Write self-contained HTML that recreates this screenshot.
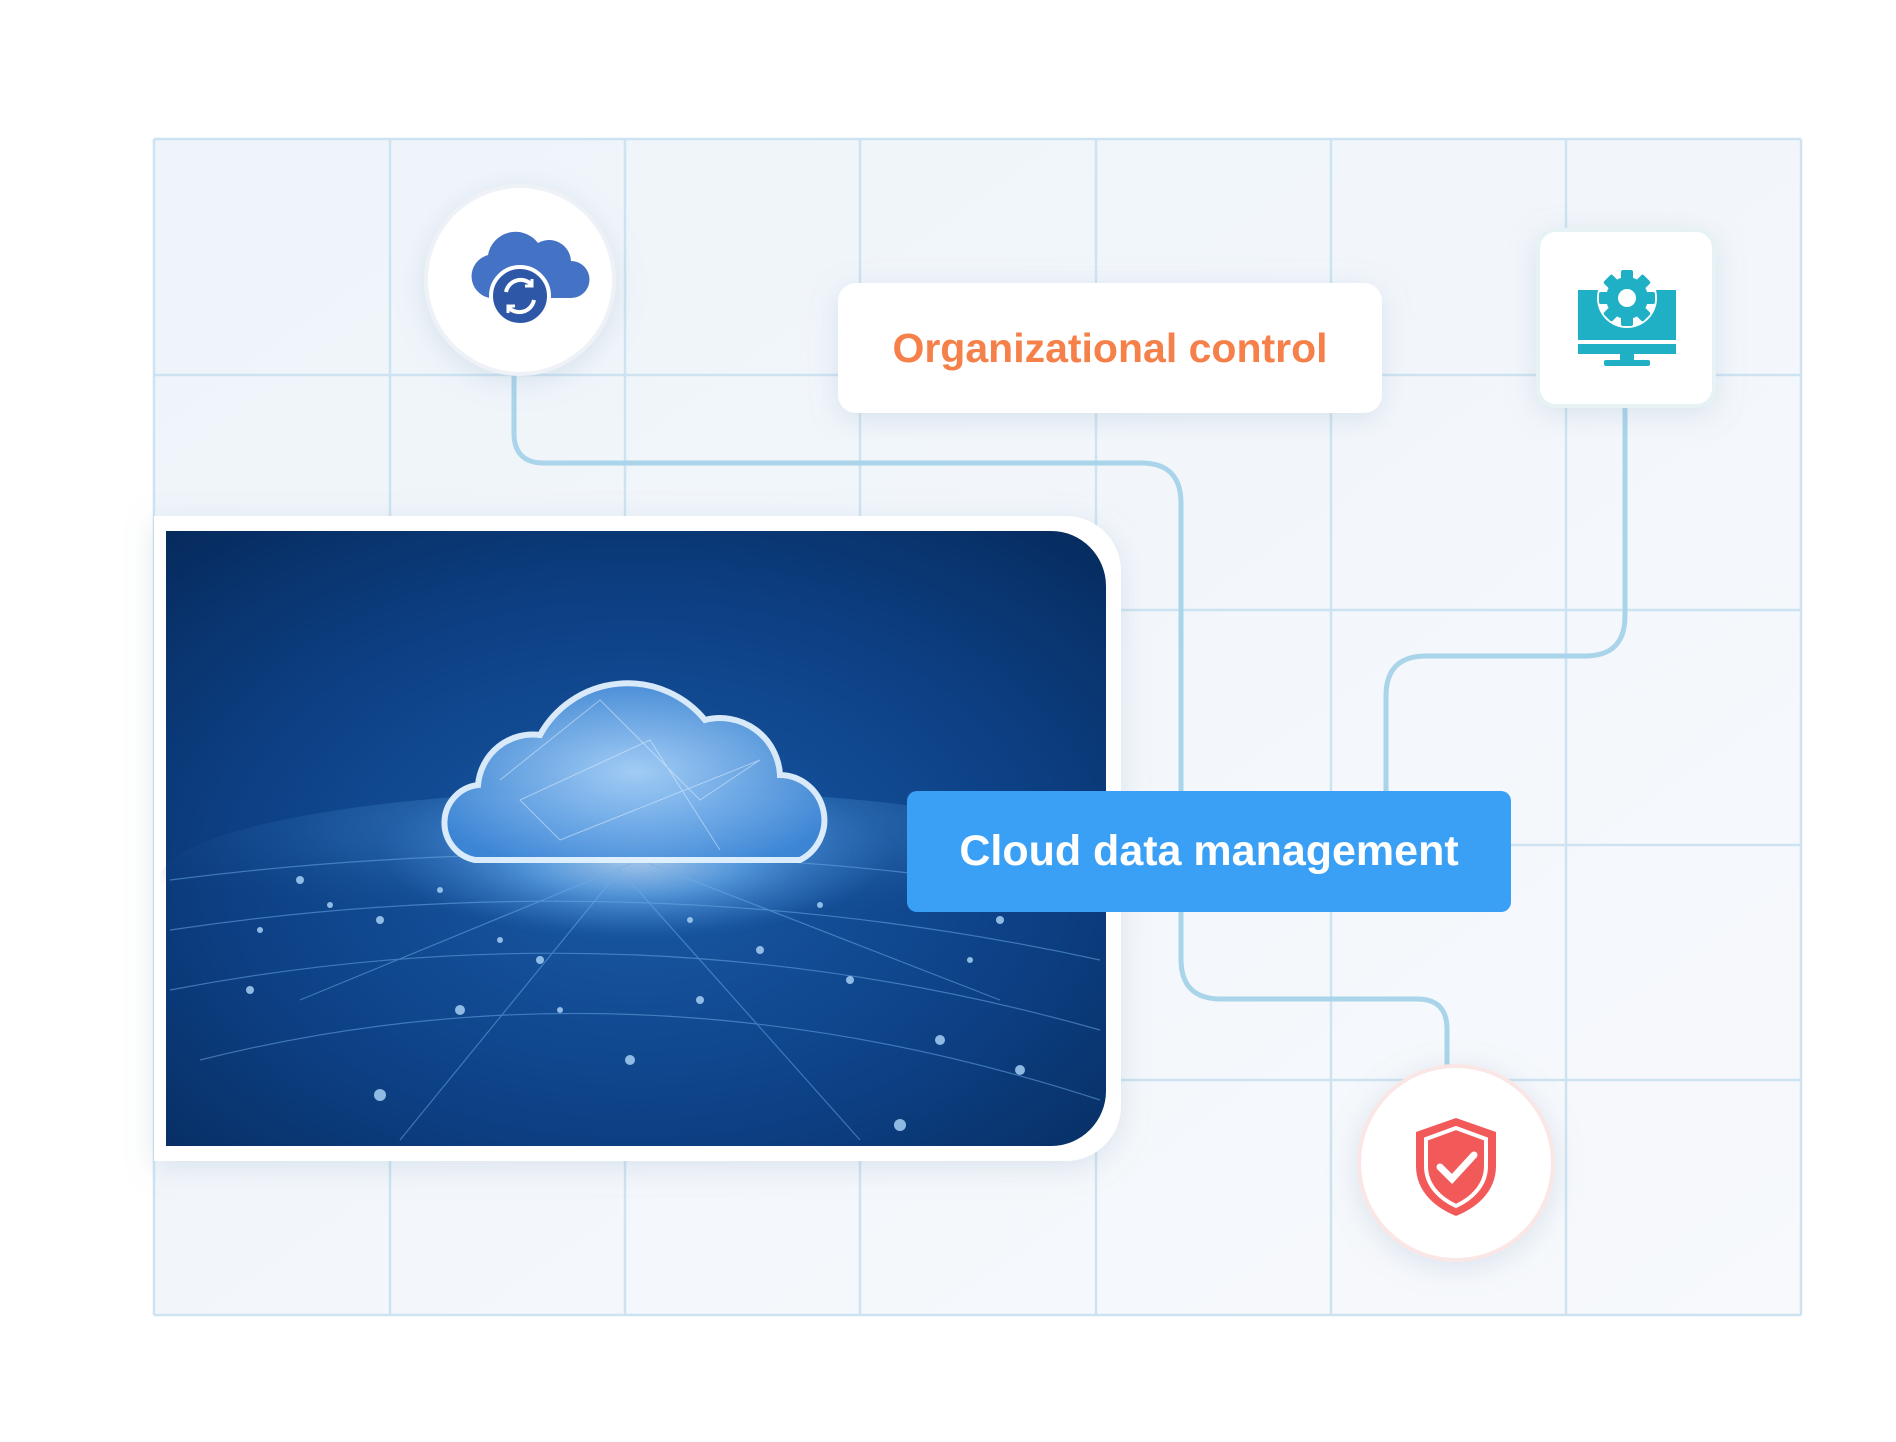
<!DOCTYPE html>
<html><head><meta charset="utf-8"><style>
html,body{margin:0;padding:0;background:#fff;}
body{width:1896px;height:1442px;position:relative;overflow:hidden;font-family:"Liberation Sans",sans-serif;}
.abs{position:absolute;}
</style></head><body>
<svg class="abs" style="left:0;top:0" width="1896" height="1442">
<defs>
<linearGradient id="bg" x1="0" y1="0" x2="1" y2="1"><stop offset="0" stop-color="#eef4fa"/><stop offset="1" stop-color="#f7f9fc"/></linearGradient>
<radialGradient id="img" cx="0.5" cy="0.55" r="0.75"><stop offset="0" stop-color="#1a5aa6"/><stop offset="0.55" stop-color="#0d4186"/><stop offset="1" stop-color="#062a5c"/></radialGradient>
<radialGradient id="glow" cx="0.5" cy="0.6" r="0.5"><stop offset="0" stop-color="#dff0ff"/><stop offset="0.4" stop-color="#6aaff0"/><stop offset="1" stop-color="#2a6fc0" stop-opacity="0"/></radialGradient>
<radialGradient id="floor" cx="0.5" cy="0.2" r="0.6"><stop offset="0" stop-color="#5aa6ee" stop-opacity="0.8"/><stop offset="1" stop-color="#0c3f80" stop-opacity="0"/></radialGradient>
<radialGradient id="cl" cx="0.5" cy="0.5" r="0.6"><stop offset="0" stop-color="#a9d3fa"/><stop offset="1" stop-color="#3d86d6"/></radialGradient>
<filter id="sh" x="-20%" y="-20%" width="140%" height="140%"><feDropShadow dx="0" dy="6" stdDeviation="14" flood-color="#8aa4c0" flood-opacity="0.25"/></filter>
<filter id="bl"><feGaussianBlur stdDeviation="6"/></filter>
</defs>
<rect x="154" y="139" width="1647" height="1176" fill="url(#bg)"/>
<g stroke="#cde3f1" stroke-width="2.5" fill="none">
<path d="M154 139V1315M390 139V1315M625 139V1315M860 139V1315M1096 139V1315M1331 139V1315M1566 139V1315M1801 139V1315"/>
<path d="M154 139H1801M154 375H1801M154 610H1801M154 845H1801M154 1080H1801M154 1315H1801"/>
</g>
<g stroke="#a9d4ea" stroke-width="5" fill="none">
<path d="M514 374V433Q514 463 544 463H1141Q1181 463 1181 503V959Q1181 999 1221 999H1417Q1447 999 1447 1029V1070"/>
<path d="M1625 406V616Q1625 656 1585 656H1426Q1386 656 1386 696V791"/>
</g>
<path d="M154 516H1066A55 55 0 0 1 1121 571V1106A55 55 0 0 1 1066 1161H154Z" fill="#fff" filter="url(#sh)"/>
<path d="M166 531H1051A55 55 0 0 1 1106 586V1091A55 55 0 0 1 1051 1146H166Z" fill="url(#img)"/>
<ellipse cx="640" cy="880" rx="480" ry="90" fill="url(#floor)"/>
<ellipse cx="636" cy="840" rx="260" ry="90" fill="url(#glow)" opacity="0.7" filter="url(#bl)"/>
<g stroke="#6fb0ec" stroke-width="1.2" opacity="0.5" fill="none">
<path d="M170 880Q640 820 1100 900M170 930Q640 860 1100 960M170 990Q640 900 1100 1030M200 1060Q640 950 1100 1100M400 1140L620 870L860 1140M300 1000L640 860L1000 1000"/>
</g>
<path d="M475 860A38 38 0 0 1 478 785A55 55 0 0 1 540 735A100 100 0 0 1 705 720A60 60 0 0 1 780 775A45 45 0 0 1 800 860Z" fill="url(#cl)" stroke="#e3f2ff" stroke-width="6" opacity="0.95"/>
<g stroke="#e8f4ff" stroke-width="1" opacity="0.5" fill="none"><path d="M500 780L600 700L700 800L760 760L560 840L520 800L650 740L720 850"/></g>
<g fill="#a6d0f5" opacity="0.85">
<circle cx="300" cy="880" r="4"/><circle cx="380" cy="920" r="4"/><circle cx="460" cy="1010" r="5"/><circle cx="540" cy="960" r="4"/><circle cx="630" cy="1060" r="5"/><circle cx="700" cy="1000" r="4"/><circle cx="760" cy="950" r="4"/><circle cx="850" cy="980" r="4"/><circle cx="940" cy="1040" r="5"/><circle cx="1000" cy="920" r="4"/><circle cx="380" cy="1095" r="6"/><circle cx="900" cy="1125" r="6"/><circle cx="250" cy="990" r="4"/><circle cx="1020" cy="1070" r="5"/>
<circle cx="330" cy="905" r="3"/><circle cx="440" cy="890" r="3"/><circle cx="560" cy="1010" r="3"/><circle cx="820" cy="905" r="3"/><circle cx="690" cy="920" r="3"/><circle cx="970" cy="960" r="3"/><circle cx="260" cy="930" r="3"/><circle cx="500" cy="940" r="3"/>
</g>
<circle cx="520" cy="280" r="94" fill="#fff" stroke="#eef2f6" stroke-width="4" filter="url(#sh)"/>
<path d="M490 298a22 22 0 0 1-2-43a28 28 0 0 1 50-12a22 22 0 0 1 33 18a18 18 0 0 1 0 37Z" fill="#4472c4"/>
<circle cx="520" cy="296" r="29" fill="#2e57a8" stroke="#fff" stroke-width="4"/>
<path d="M506 292a15 15 0 0 1 26-7M534 300a15 15 0 0 1-26 7" stroke="#fff" stroke-width="4" fill="none"/>
<path d="M532 279v7h-7M508 313v-7h7" stroke="#fff" stroke-width="3" fill="none"/>
<rect x="838" y="283" width="544" height="130" rx="18" fill="#fff" filter="url(#sh)"/>
<rect x="1538" y="230" width="176" height="176" rx="18" fill="#fff" stroke="#e6f2f4" stroke-width="4" filter="url(#sh)"/>
<rect x="1578" y="290" width="98" height="50" fill="#1fb0c6"/>
<rect x="1578" y="344" width="98" height="10" fill="#1fb0c6"/>
<rect x="1620" y="354" width="14" height="8" fill="#1fb0c6"/><rect x="1604" y="360" width="46" height="6" rx="2" fill="#1fb0c6"/>
<circle cx="1627" cy="298" r="30" fill="#fff"/>
<g fill="#1fb0c6" transform="translate(1627 298)">
<circle r="21"/>
<rect x="-6" y="-28" width="12" height="56" rx="2"/>
<rect x="-6" y="-28" width="12" height="56" rx="2" transform="rotate(45)"/>
<rect x="-6" y="-28" width="12" height="56" rx="2" transform="rotate(90)"/>
<rect x="-6" y="-28" width="12" height="56" rx="2" transform="rotate(135)"/>
<circle r="9" fill="#fff"/>
</g>
<rect x="907" y="791" width="604" height="121" rx="10" fill="#3aa0f5"/>
<circle cx="1456" cy="1163" r="97" fill="#fff" stroke="#fbe6e6" stroke-width="4" filter="url(#sh)"/>
<path d="M1456 1118l40 14v34c0 26-20 42-40 50c-20-8-40-24-40-50v-34Z" fill="#f25a5a"/>
<path d="M1456 1128l30 11v27c0 20-15 33-30 40c-15-7-30-20-30-40v-27Z" fill="none" stroke="#fff" stroke-width="4"/>
<path d="M1440 1167l12 12l22-24" stroke="#fff" stroke-width="7" fill="none" stroke-linecap="round"/>
</svg>
<div class="abs" style="left:838px;top:283px;width:544px;height:130px;line-height:130px;text-align:center;color:#f5804a;font-size:41px;font-weight:bold;">Organizational control</div>
<div class="abs" style="left:907px;top:791px;width:604px;height:121px;line-height:121px;text-align:center;color:#fff;font-size:43px;font-weight:bold;">Cloud data management</div>
</body></html>
